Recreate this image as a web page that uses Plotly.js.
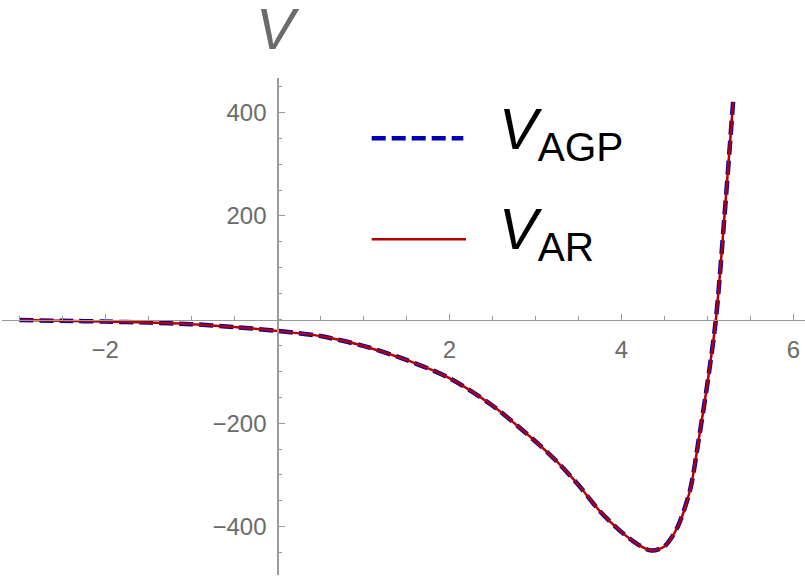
<!DOCTYPE html>
<html>
<head>
<meta charset="utf-8">
<script src="https://cdn.plot.ly/plotly-3.0.1.min.js"></script>
<style>html,body{margin:0;padding:0;background:#fff}#chart{width:805px;height:577px}</style>
</head>
<body>
<div id="chart"></div>
<script>
// data
const xValues = [-3, -2.5, -2, -1.5, -1, -0.5, 0, 0.5, 1, 1.5, 2, 2.5, 3, 3.25, 3.5, 3.75, 4, 4.2, 4.35, 4.5, 4.65, 4.8, 4.9, 5.0, 5.1, 5.2, 5.3];
const vAGP = [-1, -2.5, -4, -6, -9, -14.5, -22, -32, -51, -78, -113, -166, -235, -274, -319, -370, -410, -435, -446, -438, -402, -329, -232, -125, 0, 200, 420];
const vAR  = [-1, -2.5, -4, -6, -9, -14.5, -22, -32, -51, -78, -113, -166, -235, -274, -319, -370, -410, -435, -446, -438, -402, -329, -232, -125, 0, 200, 420];
const xTickVals = [-2, 2, 4, 6];
const yTickVals = [-400, -200, 200, 400];
const seriesNames = ['V<sub>AGP</sub>', 'V<sub>AR</sub>'];

const xRange = [-3.201, 6.136];
const yRange = [-493.2, 466.2];
const xAxisPos = (0 - yRange[0]) / (yRange[1] - yRange[0]);
const yAxisPos = (0 - xRange[0]) / (xRange[1] - xRange[0]);

const axisColor = '#9a9a9a';
const tickFont = {family: 'Liberation Sans, Arial, sans-serif', size: 24, color: '#6b6b6b'};

const traces = [
  {x: xValues, y: vAGP, mode: 'lines', name: seriesNames[0],
   line: {color: '#0000b3', width: 4.5, dash: '14px,6px', shape: 'spline', smoothing: 0.8}},
  {x: xValues, y: vAR, mode: 'lines', name: seriesNames[1],
   line: {color: '#b30000', width: 2.5, shape: 'spline', smoothing: 0.8}}
];

const layout = {
  width: 805, height: 577,
  margin: {l: 2, r: 0, t: 78, b: 2, pad: 0},
  paper_bgcolor: '#fff', plot_bgcolor: '#fff',
  showlegend: false,
  xaxis: {
    range: xRange, anchor: 'free', position: xAxisPos,
    showgrid: false, zeroline: false, showline: true, linecolor: axisColor, linewidth: 1.3,
    tickmode: 'array', tickvals: xTickVals, ticks: 'inside', ticklen: 6, tickcolor: axisColor, tickwidth: 1,
    tickfont: tickFont, ticklabelstandoff: 8,
    minor: {dtick: 0.5, tick0: 0, ticks: 'inside', ticklen: 3.5, tickcolor: axisColor, showgrid: false}
  },
  yaxis: {
    range: yRange, anchor: 'free', position: yAxisPos,
    showgrid: false, zeroline: false, showline: true, linecolor: axisColor, linewidth: 1.3,
    tickmode: 'array', tickvals: yTickVals, ticks: 'inside', ticklen: 6, tickcolor: axisColor, tickwidth: 1,
    tickfont: tickFont, ticklabelstandoff: 6,
    minor: {dtick: 50, tick0: 0, ticks: 'inside', ticklen: 3.5, tickcolor: axisColor, showgrid: false}
  },
  shapes: [
    {type: 'line', xref: 'paper', yref: 'paper', x0: 0.4604, x1: 0.5745, y0: 0.8787, y1: 0.8787,
     line: {color: '#0000b3', width: 4.5, dash: '14px,6px'}},
    {type: 'line', xref: 'paper', yref: 'paper', x0: 0.4604, x1: 0.5778, y0: 0.6755, y1: 0.6755,
     line: {color: '#b30000', width: 2.5}}
  ],
  annotations: [
    {xref: 'paper', yref: 'paper', x: 0.3437, y: 1.0996, xanchor: 'center', yanchor: 'middle',
     text: '<i>V</i>', showarrow: false,
     font: {family: 'Liberation Sans, Arial, sans-serif', size: 58, color: '#6b6b6b'}},
    {xref: 'paper', yref: 'paper', x: 0.617, y: 0.89, xanchor: 'left', yanchor: 'middle',
     text: '<i>V</i><sub>AGP</sub>', showarrow: false,
     font: {family: 'Liberation Sans, Arial, sans-serif', size: 58, color: '#000'}},
    {xref: 'paper', yref: 'paper', x: 0.617, y: 0.688, xanchor: 'left', yanchor: 'middle',
     text: '<i>V</i><sub>AR</sub>', showarrow: false,
     font: {family: 'Liberation Sans, Arial, sans-serif', size: 58, color: '#000'}}
  ]
};

Plotly.newPlot('chart', traces, layout, {displayModeBar: false, staticPlot: true});
</script>
</body>
</html>
